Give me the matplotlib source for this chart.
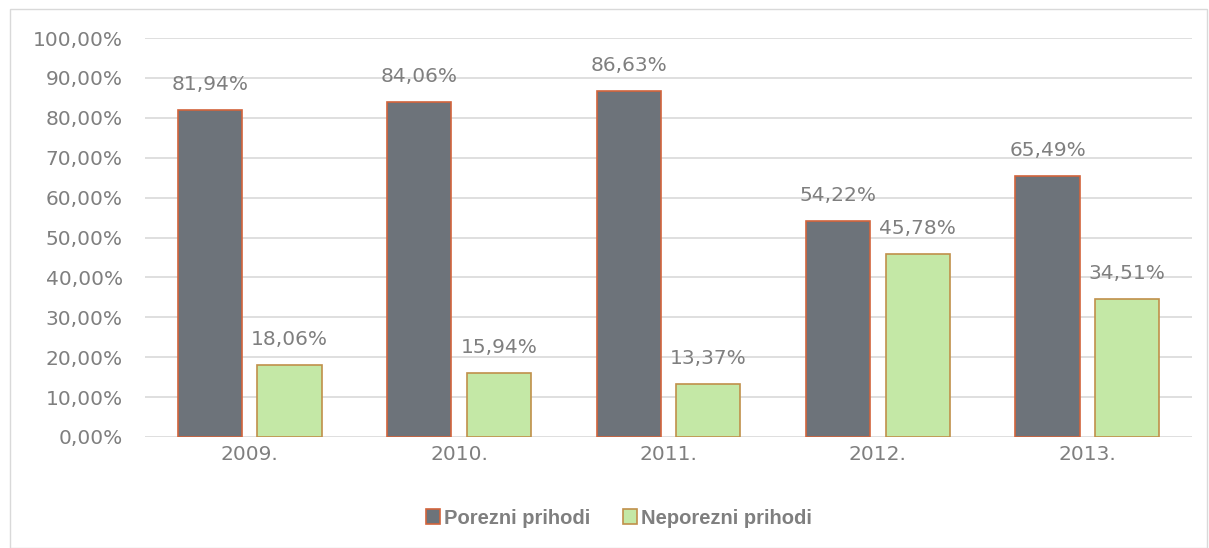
import numpy as np
import matplotlib.pyplot as plt
from matplotlib.patches import Rectangle
from matplotlib.ticker import FuncFormatter

years = ['2009.', '2010.', '2011.', '2012.', '2013.']
porezni = [81.94, 84.06, 86.63, 54.22, 65.49]
neporezni = [18.06, 15.94, 13.37, 45.78, 34.51]

txt_color = '#7f7f7f'
plt.rcParams['font.family'] = ['DejaVu Sans']

fig = plt.figure(figsize=(12.09, 5.48), dpi=100)
# outer chart border
fig.patches.append(Rectangle((10 / 1209, 0), 1197 / 1209, 1 - 9 / 548, transform=fig.transFigure,
                             fill=False, edgecolor='#d9d9d9', linewidth=1.0))

ax = fig.add_axes([145 / 1209, 1 - 437 / 548, 1047 / 1209, 399 / 548])
x = np.arange(len(years))
w = 0.306
off = 0.19

b1 = ax.bar(x - off, porezni, w, color='#6d737a', edgecolor='#d2643c', linewidth=1.2,
            label='Porezni prihodi', zorder=3)
b2 = ax.bar(x + off, neporezni, w, color='#c4e8a6', edgecolor='#c0904a', linewidth=1.2,
            label='Neporezni prihodi', zorder=3)

for bars, vals in ((b1, porezni), (b2, neporezni)):
    for r, v in zip(bars, vals):
        ax.text(r.get_x() + r.get_width() / 2, v + 4.0, ('%.2f%%' % v).replace('.', ','),
                ha='center', va='bottom', fontsize=14.5, color=txt_color)

ax.set_xlim(-0.5, len(years) - 0.5)
ax.set_ylim(0, 100)
ax.set_yticks(np.arange(0, 101, 10))
ax.yaxis.set_major_formatter(FuncFormatter(lambda v, p: ('%.2f%%' % v).replace('.', ',')))
ax.set_xticks(x)
ax.set_xticklabels(years)
ax.tick_params(axis='both', length=0, labelsize=14.5, labelcolor=txt_color)
ax.tick_params(axis='y', pad=16)
ax.tick_params(axis='x', pad=6)
ax.grid(axis='y', color='#d9d9d9', linewidth=1.2, zorder=0)
for s in ax.spines.values():
    s.set_visible(False)

fig.legend(handles=[b1, b2], loc='center', bbox_to_anchor=(619 / 1209, 1 - 518 / 548), ncol=2,
           frameon=False, labelcolor=txt_color, handlelength=0.7, handleheight=0.7,
           handletextpad=0.2, columnspacing=1.6,
           prop={'family': 'Liberation Sans', 'weight': 'bold', 'size': 14.5})

fig.savefig('out.png', dpi=100)
